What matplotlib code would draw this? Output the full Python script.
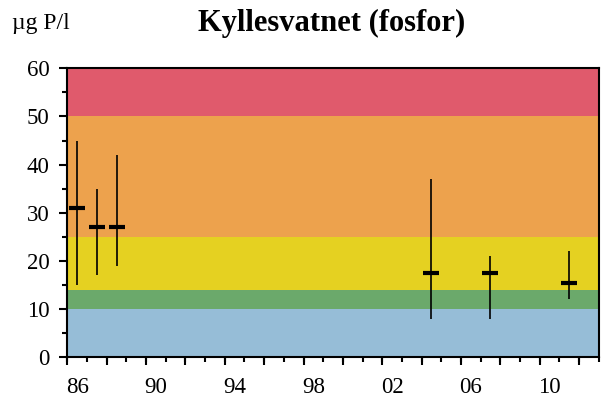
import matplotlib
matplotlib.use("Agg")
import matplotlib.pyplot as plt
from matplotlib.ticker import FixedLocator

# Data
years = [1986, 1987, 1988, 2004, 2007, 2011]
mean_vals = [31, 27, 27, 17.5, 17.5, 15.5]
min_vals = [15, 17, 19, 8, 8, 12]
max_vals = [45, 35, 42, 37, 21, 22]

band_edges = [0, 10, 14, 25, 50, 60]
band_colors = ["#96BDD7", "#6BA96B", "#E5D121", "#EDA24D", "#E05A6C"]

first_year, last_year = 1986, 2012
label_years = [1986, 1990, 1994, 1998, 2002, 2006, 2010]
label_texts = ["86", "90", "94", "98", "02", "06", "10"]

plt.rcParams['font.family'] = ['Liberation Serif', 'DejaVu Serif']

fig = plt.figure(figsize=(6.04, 4.05), dpi=100)
ax = fig.add_axes([0.1116, 0.1178, 0.9912 - 0.1116, 0.8314 - 0.1178])

x0, x1 = first_year - 0.5, last_year + 0.5
for lo, hi, c in zip(band_edges[:-1], band_edges[1:], band_colors):
    ax.axhspan(lo, hi, color=c, lw=0, zorder=0)

ax.vlines(years, min_vals, max_vals, color="black", lw=1.2, zorder=3)
ax.plot(years, mean_vals, ls="none", marker="_", ms=12, mew=3, color="black", zorder=4)

ax.set_xlim(x0, x1)
ax.set_ylim(0, 60)

# y ticks
ax.set_yticks(range(0, 61, 10))
ax.yaxis.set_minor_locator(FixedLocator(list(range(5, 60, 10))))
ax.tick_params(axis="y", which="major", direction="out", length=6, width=1.5, labelsize=16.5, pad=7)
ax.tick_params(axis="y", which="minor", direction="out", length=3.5, width=1.5)

# x: labels centered on categories, tick marks at category boundaries
ax.set_xticks(label_years)
ax.set_xticklabels(label_texts)
bounds = [first_year - 0.5 + k for k in range(0, last_year - first_year + 2)]
ax.xaxis.set_minor_locator(FixedLocator(bounds))
ax.tick_params(axis="x", which="major", length=0, labelsize=16.5, pad=14)
ax.tick_params(axis="x", which="minor", direction="out", length=3.5, width=1.5)
sec = ax.secondary_xaxis("bottom")
sec.set_xticks(bounds[::2])
sec.tick_params(axis="x", which="major", direction="out", length=6, width=1.5, labelbottom=False)
sec.spines["bottom"].set_visible(False)

for s in ax.spines.values():
    s.set_linewidth(1.5)
    s.set_color("black")

fig.text(0.549, 0.943, "Kyllesvatnet (fosfor)", ha="center", va="center",
         fontsize=22, fontweight="bold")
fig.text(0.02, 0.943, "µg P/l", ha="left", va="center", fontsize=17)

fig.savefig("out.png", dpi=100)
